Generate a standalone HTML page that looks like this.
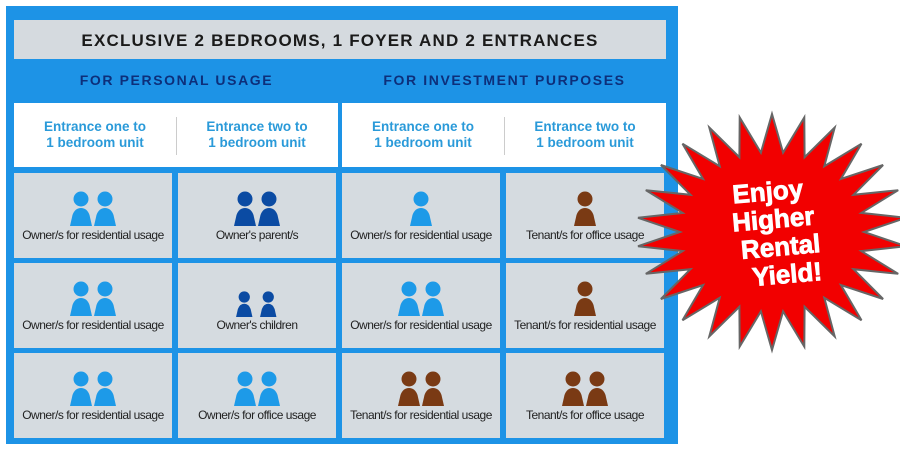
<!DOCTYPE html>
<html><head><meta charset="utf-8"><style>
body{margin:0;width:900px;height:451px;background:#fff;position:relative;overflow:hidden;font-family:"Liberation Sans",sans-serif}
.a{position:absolute}
#panel{left:6px;top:6px;width:672px;height:438px;background:#1d93e6}
.title{left:14px;top:20px;width:652px;height:39px;background:#d5dadf;color:#1a1a1a;font-size:17px;font-weight:bold;letter-spacing:1.2px;text-align:center;line-height:42px}
.hd{top:70px;width:325px;text-align:center;color:#0d2f7a;font-weight:bold;font-size:14px;letter-spacing:1.6px;line-height:20px}
.wb{top:103px;width:324px;height:64px;background:#fff}
.wb div{position:absolute;top:16px;width:162px;text-align:center;color:#2a9ad9;font-size:13.5px;font-weight:bold;line-height:16px}
.wb .sep{position:absolute;left:162px;top:14px;width:1px;height:38px;background:#ccc}
.c{width:158px;height:84px;background:#d5dbe0}
.c svg{position:absolute;left:0;top:18px;width:158px;height:36px}
.c span{position:absolute;left:0;width:158px;top:55px;text-align:center;font-size:12px;color:#222;letter-spacing:-0.5px}
</style></head><body>
<div id="panel" class="a"></div>
<div class="a title">EXCLUSIVE 2 BEDROOMS, 1 FOYER AND 2 ENTRANCES</div>
<div class="a hd" style="left:14px">FOR PERSONAL USAGE</div>
<div class="a hd" style="left:342px">FOR INVESTMENT PURPOSES</div>
<div class="a wb" style="left:14px"><div style="left:0">Entrance one to<br>1 bedroom unit</div><i class="sep"></i><div style="left:162px">Entrance two to<br>1 bedroom unit</div></div>
<div class="a wb" style="left:342px"><div style="left:0">Entrance one to<br>1 bedroom unit</div><i class="sep"></i><div style="left:162px">Entrance two to<br>1 bedroom unit</div></div>
<div id="cells"></div>
<svg class="a" style="left:0;top:0" width="900" height="451"><polygon id="star" fill="#f20000" stroke="#666" stroke-width="2"/>
<g transform="rotate(-5 775 240)" fill="#fff" font-family="Liberation Sans" font-weight="900" font-size="26" text-anchor="middle" stroke="#fff" stroke-width="0.8">
<text x="772" y="200">Enjoy</text><text x="775" y="228">Higher</text><text x="780" y="256">Rental</text><text x="784" y="284">Yield!</text></g></svg>
<script>
var L='#1d9ae8',D='#0b4ba3',B='#7a3a14';
function person(x,c,s){s=s||1;return '<g transform="translate('+x+',0) scale('+s+')" fill="'+c+'"><circle cx="11" cy="8" r="7.5"/><path d="M0 35 L2.5 24 Q5 17 11 17 Q17 17 19.5 24 L22 35Z"/></g>';}
function icons(n,c,small){if(small){return '<g transform="translate(0,10)">'+person(58,c,0.75)+person(82,c,0.75)+'</g>';}
 return n==1?person(68,c):person(56,c)+person(80,c);}
var cols=[14,178,342,506],rows=[173,263,353];
var data=[[[2,L,'Owner/s for residential usage'],[2,D,"Owner's parent/s"],[1,L,'Owner/s for residential usage'],[1,B,'Tenant/s for office usage']],
[[2,L,'Owner/s for residential usage'],[2,D,"Owner's children",1],[2,L,'Owner/s for residential usage'],[1,B,'Tenant/s for residential usage']],
[[2,L,'Owner/s for residential usage'],[2,L,'Owner/s for office usage'],[2,B,'Tenant/s for residential usage'],[2,B,'Tenant/s for office usage']]];
var h='';for(var r=0;r<3;r++)for(var k=0;k<4;k++){var d=data[r][k];
h+='<div class="a c" style="left:'+cols[k]+'px;top:'+rows[r]+'px;height:85px"><svg>'+icons(d[0],d[1],d[3])+'</svg><span>'+d[2]+'</span></div>';}
document.getElementById('cells').innerHTML=h;
var p=[],n=26,cx=772,cy=232;for(var i=0;i<2*n;i++){var a=Math.PI*i/n-Math.PI/2;var ro=i%2==0;var rx=ro?135:92,ry=ro?118:80;p.push((cx+rx*Math.cos(a)).toFixed(1)+','+(cy+ry*Math.sin(a)).toFixed(1));}
document.getElementById('star').setAttribute('points',p.join(' '));
</script>
</body></html>
